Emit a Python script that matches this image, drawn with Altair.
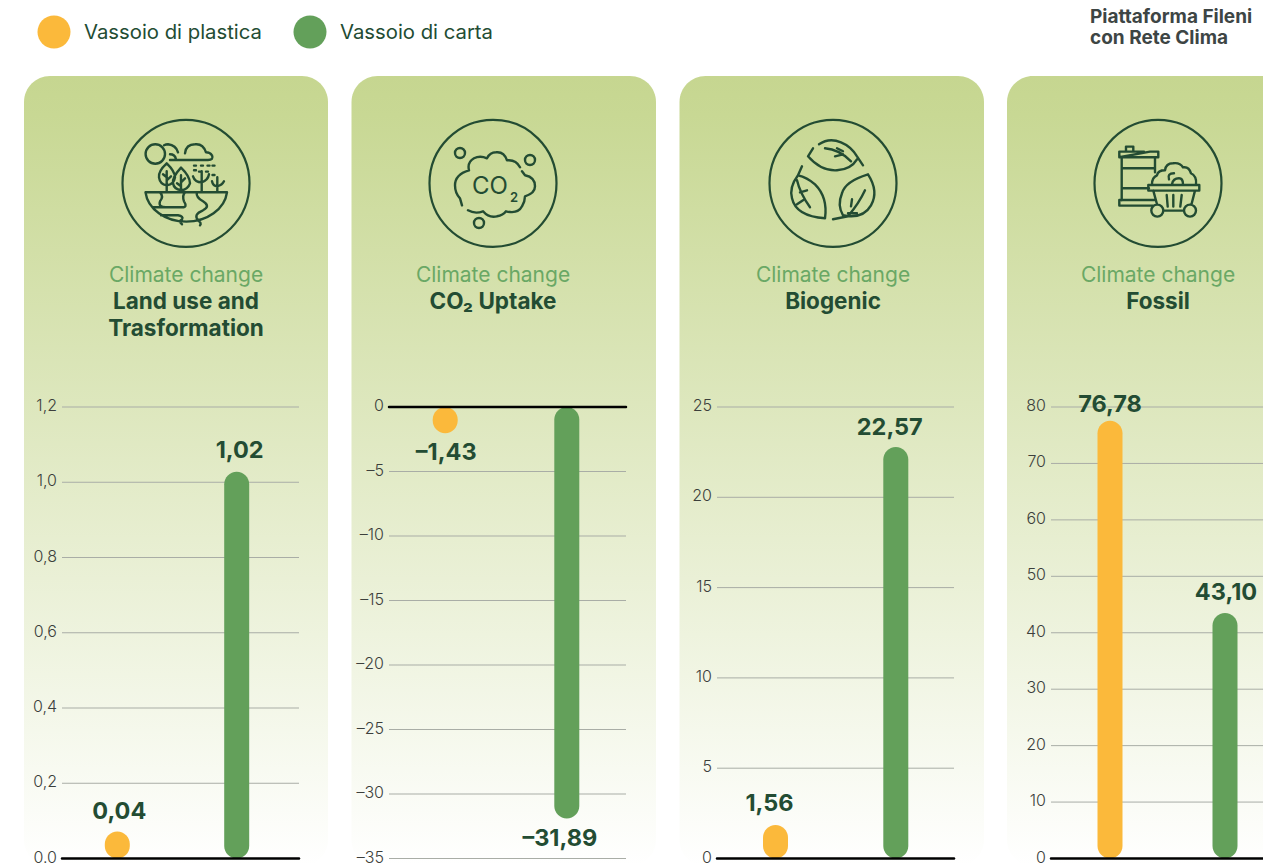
import altair as alt
import pandas as pd

FONT = "Inter"
DARK = "#234c33"
YELLOW = "#fbb93b"
GREEN = "#63a05a"
LIGHT_GREEN = "#6aa865"

SERIES = ["Vassoio di plastica", "Vassoio di carta"]

# values as printed, and the end of each drawn bar
LABELS_1 = ["0,04", "1,02"]
TIPS_1 = [0.072, 1.028]
TICKS_1 = [1.2, 1.0, 0.8, 0.6, 0.4, 0.2, 0.0]
TICKLABELS_1 = ["1,2", "1,0", "0,8", "0,6", "0,4", "0,2", "0.0"]

LABELS_2 = ["–1,43", "–31,89"]
TIPS_2 = [-2.04, -31.9]
TICKS_2 = [0, -5, -10, -15, -20, -25, -30, -35]
TICKLABELS_2 = ["0", "–5", "–10", "–15", "–20", "–25", "–30", "–35"]

LABELS_3 = ["1,56", "22,57"]
TIPS_3 = [1.855, 22.78]
TICKS_3 = [25, 20, 15, 10, 5, 0]
TICKLABELS_3 = ["25", "20", "15", "10", "5", "0"]

LABELS_4 = ["76,78", "43,10"]
TIPS_4 = [77.57, 43.5]
TICKS_4 = [80, 70, 60, 50, 40, 30, 20, 10, 0]
TICKLABELS_4 = ["80", "70", "60", "50", "40", "30", "20", "10", "0"]

TITLES = [["Land use and", "Trasformation"], ["CO₂ Uptake"], ["Biogenic"], ["Fossil"]]


def circle(cx, cy, r):
    return f"M{cx - r} {cy} A{r} {r} 0 1 1 {cx + r} {cy} A{r} {r} 0 1 1 {cx - r} {cy} Z "


ICON_1 = (
    circle(-30.7, -29.3, 9.7)
    + "M-16 -23.3 H22 Q28 -23.3 26 -28 Q24 -31 20 -31 Q17 -40 9 -39 Q0 -39 -1 -30 "
    "M-8 -31 Q-10 -38 -18 -39 Q-20 -39 -22 -38 M-16 -29 Q-11 -29 -10 -24 "
    "M-19.3 -20 Q-28 -12 -27 -6 Q-26 1 -19.3 2 Q-12 1 -11 -6 Q-11 -12 -19.3 -20 Z "
    "M-19.3 -12 V9 M-19.3 -6 L-23 -9 M-19.3 -3 L-15 -7 "
    "M-5 -15.7 Q-14 -6 -13 0 Q-12 6 -5 7 Q2 6 4 0 Q4 -7 -5 -15.7 Z "
    "M-5 -8 V9 M-5 -1 L-1 -5 M-5 3 L-9 0 "
    "M15.7 9 V-12 M15.7 -1 Q9 -1 7 -7 M15.7 -1 Q22 -3 23 -9 "
    "M31.3 9 V-6 M31.3 3 Q27 3 26 -2 M31.3 3 Q36 2 38 -2 "
    "M8 -17.7 H10 M15 -17.7 H17 M21.5 -17.7 H23.5 M26.5 -17.7 H28.5 "
    "M8 -13 H10 M13 -11.7 H15 M20 -11.7 H22 M26.5 -8.3 H28.5 "
    "M-40.5 9 H41 A41 33 0 0 1 -40.5 9 Z "
    "M10.7 9 Q10 14 17 18 Q25 23 17 27 Q7 31 12 37 Q16 40 14 42 "
    "M-26 9 Q-22 13 -26 18 Q-28 24 -20 24 H-4 Q2 24 -2 18 Q-4 12 -1 9 "
    "M-33 24 H-20 M-8 32 Q-2 33 -4 36 Q-8 38 -4 41 M-25 32 H-8"
)
ICON_2 = (
    circle(-33, -30.3, 5) + circle(37, -23.3, 5) + circle(-14, 39.7, 5)
    + "M27 -16 Q23 -24 14 -23 Q11 -32 3 -31 Q-3 -31 -6 -25 Q-13 -28 -19 -25 Q-26 -21 -24 -13 "
    "Q-38 -9 -38 2 Q-38 10 -33 15 L-31 22 "
    "M-25 27 Q-18 31 -10 28 Q-4 35 4 33 Q10 32 13 28 Q25 31 29 23 Q32 18 32 13 "
    "Q42 10 42 3 Q42 -6 32 -8 L29 -12"
)
ICON_3 = (
    "M-20 -35 L-25 -27 Q-12 -12 4 -13 Q18 -14 24 -24 "
    "M-14 -39 Q-4 -46 8 -41 Q18 -37 24 -27 L30 -18 "
    "M-8 -35 Q6 -34 18 -22 M4 -35 L10 -32 M2 -27 L10 -29 "
    "M-31 -17 L-35 -8 Q-44 4 -41 15 Q-37 33 -8 35 Q-5 14 -18 1 Q-26 -6 -35 -8 Z "
    "M-36 -3 Q-33 10 -23 24 M-33 9 L-26 7 M-30 17 L-36 21 "
    "M35 -9 Q12 -2 9 10 Q4 22 10 32 Q30 36 38 22 Q46 8 35 -9 Z "
    "M0 36 L15 33 Q26 20 32 7 M18 23 L19 16 M15 30 H24"
)
ICON_4 = (
    "M-38.7 -31.7 H-14 M-8 -31.7 H0.3 V-26 H-38.7 Z M-38.7 -31.7 V-26 "
    "M-32 -31.7 V-36.7 H-24.7 V-31.7 "
    "M-36.3 -26 V17 M-3 -26 V-11 M-36.3 -15 H-3 M-36.3 5 H-9 "
    "M-38.7 16.7 H-3 M-38.7 16.7 V22.3 H-4 "
    "M-9.7 1.7 H41.3 V7.3 H-9.7 Z "
    "M-4.7 7.3 L-1 21 M37 7.3 L33.5 21 M5.3 27.3 H26 "
    + circle(-0.7, 27.3, 6) + circle(32, 27.3, 6)
    + "M8.7 11.7 L9.7 23.3 M15.3 11.7 V23.3 M23.7 11.7 L22.3 23.3 "
    "M-6 1 Q-6 -6 -1 -8 Q0 -13 7 -13 Q8 -20 15 -20 Q22 -21 25 -16 Q31 -17 33 -10 Q39 -7 38 1 "
    "M11 -4 Q9 -10 16 -10 M14 1 Q15 -5 21 -5 Q25 -5 25 1"
)

PANEL_GRADIENT = alt.LinearGradient(
    gradient="linear", x1=0, y1=0, x2=0, y2=1,
    stops=[
        alt.GradientStop(color="#c6d690", offset=0),
        alt.GradientStop(color="#c8d894", offset=0.05),
        alt.GradientStop(color="#ffffff", offset=1),
    ],
)

ORIGIN = 8
one = pd.DataFrame({"k": [0]})


def px(v):
    return alt.value(v - ORIGIN)


def text_at(txt, x, y, size, color, weight=400, align="center"):
    return (
        alt.Chart(pd.DataFrame({"t": [txt]}))
        .mark_text(font=FONT, fontSize=size, fontWeight=weight, color=color, align=align, baseline="middle")
        .encode(text="t:N", x=px(x), y=px(y))
    )


def panel(left, right, centre, grid_left, centres, ticks, ticklabels, tips, labels, label_dx, dy, titles, icon, baseline_tick):
    top, bottom = 407, 858.5
    yscale = alt.Scale(domain=[min(ticks), max(ticks)], range=[bottom - ORIGIN, top - ORIGIN], nice=False, zero=False)
    xscale = alt.Scale(type="point", domain=SERIES, range=[centres[0] - ORIGIN, centres[1] - ORIGIN], padding=0)
    bg = (
        alt.Chart(one)
        .mark_rect(fill=PANEL_GRADIENT, cornerRadius=26)
        .encode(x=px(left), x2=px(right), y=px(76), y2=px(866))
    )
    tick_df = pd.DataFrame({"tick": ticks, "label": ticklabels})
    grid = (
        alt.Chart(tick_df[tick_df.tick != baseline_tick])
        .mark_rule(color="#a9ada6", strokeWidth=1)
        .encode(y=alt.Y("tick:Q", scale=yscale, axis=None), x=px(grid_left), x2=px(grid_left + 237))
    )
    tick_text = (
        alt.Chart(tick_df)
        .mark_text(font=FONT, fontSize=16, fontWeight=300, color="#3c3f3c", align="right", baseline="middle", dy=-1)
        .encode(y=alt.Y("tick:Q", scale=yscale, axis=None), x=px(grid_left - 5), text="label:N")
    )
    bar_df = pd.DataFrame({"serie": SERIES, "tip": tips, "zero": [0, 0], "label": labels})
    bars = (
        alt.Chart(bar_df)
        .mark_bar(size=25, cornerRadius=12.5)
        .encode(
            x=alt.X("serie:N", scale=xscale, axis=None),
            y=alt.Y("tip:Q", scale=yscale, axis=None),
            y2="zero:Q",
            color=alt.Color("serie:N", scale=alt.Scale(domain=SERIES, range=[YELLOW, GREEN]), legend=None),
        )
    )
    base = (
        alt.Chart(pd.DataFrame({"tick": [baseline_tick]}))
        .mark_rule(color="#000000", strokeWidth=2.5, strokeCap="round")
        .encode(y=alt.Y("tick:Q", scale=yscale, axis=None), x=px(grid_left), x2=px(grid_left + 237))
    )
    layers = [bg, grid, tick_text, bars, base]
    for i in range(2):
        layers.append(
            alt.Chart(bar_df.iloc[[i]])
            .mark_text(font=FONT, fontSize=23.5, fontWeight=700, color=DARK, dx=label_dx[i], dy=dy[i], align="center", baseline="middle")
            .encode(
                x=alt.X("serie:N", scale=xscale, axis=None),
                y=alt.Y("tip:Q", scale=yscale, axis=None),
                text="label:N",
            )
        )
    layers.append(
        alt.Chart(one)
        .mark_point(shape="circle", size=127 * 127, filled=False, stroke=DARK, strokeWidth=2.2, opacity=1)
        .encode(x=px(centre), y=px(183.3))
    )
    layers.append(
        alt.Chart(one)
        .mark_point(shape=icon, size=4, filled=False, stroke=DARK, strokeWidth=2.4, opacity=1, strokeCap="round", strokeJoin="round")
        .encode(x=px(centre), y=px(183.3))
    )
    layers.append(text_at("Climate change", centre, 275.5, 21, LIGHT_GREEN))
    for j, t in enumerate(titles):
        layers.append(text_at(t, centre, 301.5 + 27 * j, 22.5, DARK, 700))
    return alt.layer(*layers)


p1 = panel(24, 328, 186, 62, [117.3, 236.7], TICKS_1, TICKLABELS_1, TIPS_1, LABELS_1, [2, 3], [-19.5, -20.5], TITLES[0], ICON_1, 0.0)
p2 = panel(351.5, 656, 493, 389, [445.2, 566.8], TICKS_2, TICKLABELS_2, TIPS_2, LABELS_2, [1, -7], [20, 20.5], TITLES[1], ICON_2, 0)
p3 = panel(679.5, 984, 833, 717, [775.5, 895.8], TICKS_3, TICKLABELS_3, TIPS_3, LABELS_3, [-6, -6], [-21, -19], TITLES[2], ICON_3, 0)
p4 = panel(1007, 1340, 1158, 1051, [1110, 1225], TICKS_4, TICKLABELS_4, TIPS_4, LABELS_4, [0, 1], [-15.5, -19.5], TITLES[3], ICON_4, 0)

co_big = text_at("CO", 490, 187, 24, DARK, 400)
co_small = text_at("2", 514, 198, 13, DARK, 600)

legend_dots = (
    alt.Chart(pd.DataFrame({"serie": SERIES}))
    .mark_point(filled=True, size=33 * 33, shape="circle", opacity=1)
    .encode(
        x=alt.X("serie:N", scale=alt.Scale(type="point", domain=SERIES, range=[54 - ORIGIN, 310 - ORIGIN], padding=0), axis=None),
        color=alt.Color("serie:N", scale=alt.Scale(domain=SERIES, range=[YELLOW, GREEN]), legend=None),
        y=px(32),
    )
)
legend_1 = text_at(SERIES[0], 84, 33, 20.3, DARK, 400, "left")
legend_2 = text_at(SERIES[1], 340, 33, 20.3, DARK, 400, "left")
title_1 = text_at("Piattaforma Fileni", 1090, 17, 19, "#3d4544", 700, "left")
title_2 = text_at("con Rete Clima", 1090, 38, 19, "#3d4544", 700, "left")

chart = (
    alt.layer(p1, p2, p3, p4, co_big, co_small, legend_dots, legend_1, legend_2, title_1, title_2)
    .resolve_scale(x="independent", y="independent", color="independent")
    .properties(width=1255, height=855, padding=0, autosize=alt.AutoSizeParams(type="none"), background="white")
    .configure_view(stroke=None)
)
chart.save("out.html", embed_options={"renderer": "svg", "actions": False})
